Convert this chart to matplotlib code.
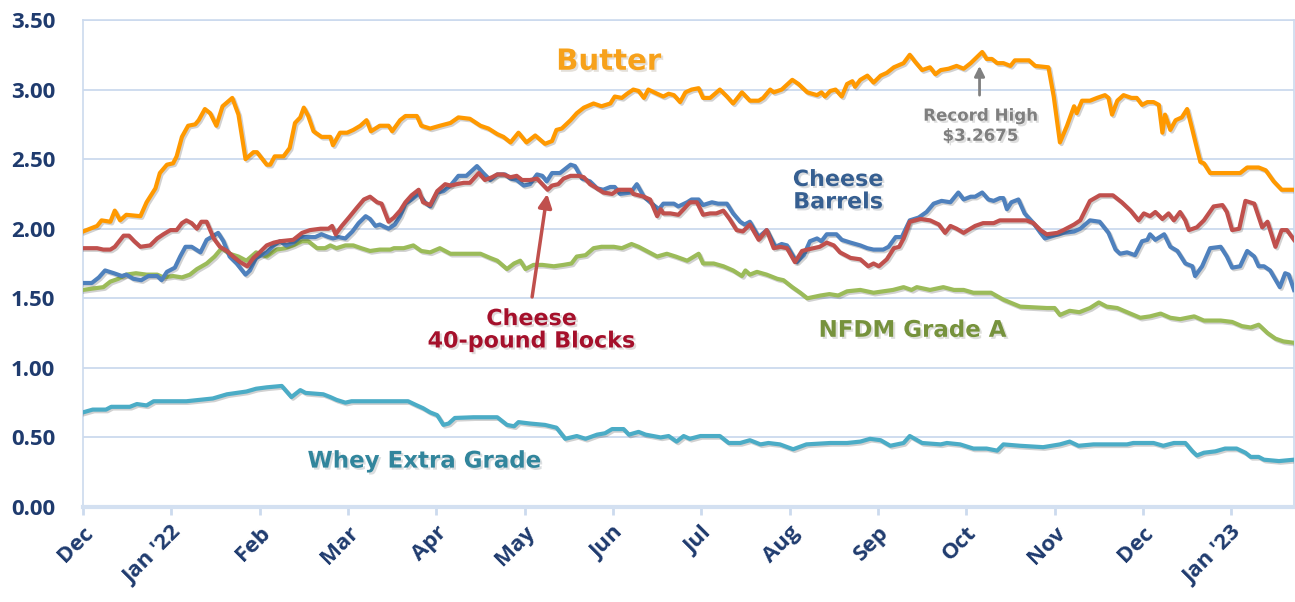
import matplotlib
matplotlib.use("Agg")
import matplotlib.pyplot as plt
import matplotlib.patheffects as pe

# eixo x em meses (0 = Dec 2021, 13 = Jan 2023)
month_labels = ["Dec", "Jan '22", "Feb", "Mar", "Apr", "May", "Jun", "Jul",
                "Aug", "Sep", "Oct", "Nov", "Dec", "Jan '23"]

butter_x = [0.00, 0.16, 0.21, 0.31, 0.36, 0.42, 0.49, 0.65, 0.72, 0.82, 0.87, 0.95, 1.02, 1.06,
            1.12, 1.19, 1.27, 1.31, 1.38, 1.44, 1.51, 1.58, 1.69, 1.76, 1.84, 1.93, 1.97, 2.08,
            2.12, 2.17, 2.27, 2.34, 2.40, 2.46, 2.50, 2.55, 2.61, 2.70, 2.80, 2.83, 2.91, 2.99,
            3.06, 3.14, 3.21, 3.26, 3.36, 3.46, 3.50, 3.59, 3.65, 3.78, 3.83, 3.93, 4.04, 4.16,
            4.25, 4.38, 4.50, 4.59, 4.69, 4.76, 4.84, 4.93, 5.02, 5.12, 5.23, 5.31, 5.36, 5.42,
            5.52, 5.59, 5.67, 5.78, 5.87, 5.97, 6.02, 6.10, 6.16, 6.23, 6.29, 6.35, 6.40, 6.50,
            6.57, 6.63, 6.69, 6.76, 6.82, 6.89, 6.97, 7.02, 7.10, 7.21, 7.29, 7.36, 7.46, 7.55,
            7.65, 7.70, 7.78, 7.82, 7.91, 8.03, 8.10, 8.20, 8.31, 8.36, 8.40, 8.46, 8.52, 8.59,
            8.65, 8.71, 8.74, 8.80, 8.88, 8.95, 9.03, 9.10, 9.18, 9.29, 9.36, 9.42, 9.50, 9.59,
            9.65, 9.71, 9.80, 9.89, 9.97, 10.05, 10.18, 10.23, 10.29, 10.35, 10.42, 10.50, 10.55,
            10.71, 10.78, 10.93, 10.99, 11.06, 11.14, 11.22, 11.25, 11.31, 11.40, 11.48, 11.57,
            11.61, 11.65, 11.71, 11.78, 11.87, 11.93, 11.99, 12.05, 12.12, 12.18, 12.22, 12.25,
            12.31, 12.37, 12.44, 12.50, 12.56, 12.61, 12.65, 12.69, 12.76, 13.10, 13.18, 13.31,
            13.39, 13.48, 13.57, 13.71]
butter_y = [1.98, 2.02, 2.06, 2.05, 2.13, 2.06, 2.10, 2.09, 2.19, 2.29, 2.40, 2.46, 2.47, 2.52,
            2.66, 2.74, 2.75, 2.78, 2.86, 2.83, 2.74, 2.88, 2.94, 2.82, 2.50, 2.55, 2.55, 2.46,
            2.46, 2.52, 2.52, 2.58, 2.76, 2.80, 2.87, 2.81, 2.70, 2.66, 2.66, 2.60, 2.69, 2.69,
            2.71, 2.74, 2.78, 2.70, 2.74, 2.74, 2.70, 2.78, 2.81, 2.81, 2.74, 2.72, 2.74, 2.76,
            2.80, 2.79, 2.74, 2.72, 2.68, 2.66, 2.62, 2.69, 2.62, 2.67, 2.61, 2.63, 2.71, 2.72,
            2.78, 2.83, 2.87, 2.90, 2.88, 2.90, 2.95, 2.94, 2.97, 3.00, 2.99, 2.94, 3.00, 2.97,
            2.95, 2.97, 2.96, 2.91, 2.98, 3.00, 3.01, 2.94, 2.94, 3.00, 2.95, 2.90, 2.98, 2.92,
            2.92, 2.94, 3.00, 2.98, 3.00, 3.07, 3.04, 2.98, 2.96, 2.98, 2.95, 2.99, 3.00, 2.95,
            3.04, 3.06, 3.02, 3.07, 3.10, 3.05, 3.10, 3.12, 3.16, 3.19, 3.25, 3.20, 3.14, 3.16,
            3.11, 3.14, 3.15, 3.17, 3.15, 3.19, 3.27, 3.22, 3.22, 3.19, 3.19, 3.17, 3.21,
            3.21, 3.17, 3.16, 2.95, 2.62, 2.74, 2.88, 2.83, 2.92, 2.92, 2.94, 2.96,
            2.94, 2.82, 2.92, 2.96, 2.94, 2.94, 2.89, 2.91, 2.91, 2.89, 2.69, 2.82,
            2.71, 2.78, 2.80, 2.86, 2.71, 2.58, 2.48, 2.47, 2.40, 2.40, 2.44, 2.44,
            2.42, 2.34, 2.28, 2.28]

blocks_x = [0.00, 0.16, 0.23, 0.31, 0.36, 0.46, 0.52, 0.58, 0.65, 0.76, 0.84, 0.91, 0.99, 1.06,
            1.12, 1.17, 1.23, 1.29, 1.34, 1.40, 1.48, 1.55, 1.63, 1.70, 1.78, 1.86, 1.93, 2.00,
            2.08, 2.16, 2.23, 2.38, 2.48, 2.57, 2.69, 2.78, 2.82, 2.86, 2.93, 3.01, 3.10, 3.18,
            3.25, 3.33, 3.38, 3.46, 3.52, 3.59, 3.65, 3.72, 3.80, 3.85, 3.93, 4.01, 4.10, 4.16,
            4.23, 4.31, 4.38, 4.48, 4.55, 4.63, 4.69, 4.76, 4.84, 4.91, 4.97, 5.06, 5.14, 5.20,
            5.26, 5.31, 5.38, 5.44, 5.52, 5.61, 5.67, 5.74, 5.82, 5.89, 5.99, 6.06, 6.20, 6.23,
            6.35, 6.42, 6.50, 6.54, 6.57, 6.65, 6.74, 6.80, 6.87, 6.95, 7.02, 7.10, 7.17, 7.25,
            7.32, 7.40, 7.47, 7.55, 7.65, 7.74, 7.82, 7.89, 7.97, 8.06, 8.14, 8.20, 8.27, 8.34,
            8.42, 8.50, 8.57, 8.69, 8.80, 8.89, 8.95, 9.01, 9.10, 9.18, 9.24, 9.29, 9.36, 9.48,
            9.59, 9.69, 9.76, 9.82, 9.89, 9.97, 10.02, 10.10, 10.19, 10.31, 10.38, 10.53, 10.68,
            10.76, 10.84, 10.91, 11.03, 11.10, 11.22, 11.29, 11.40, 11.51, 11.66, 11.76, 11.86,
            11.95, 12.01, 12.08, 12.14, 12.22, 12.29, 12.35, 12.42, 12.48, 12.52, 12.61, 12.69,
            12.80, 12.90, 12.95, 13.01, 13.09, 13.16, 13.26, 13.35, 13.41, 13.50, 13.57, 13.63,
            13.71]
blocks_y = [1.86, 1.86, 1.85, 1.85, 1.87, 1.95, 1.95, 1.91, 1.87, 1.88, 1.93, 1.96, 1.99, 1.99,
            2.04, 2.06, 2.04, 2.00, 2.05, 2.05, 1.93, 1.87, 1.84, 1.80, 1.76, 1.73, 1.79, 1.83,
            1.88, 1.90, 1.91, 1.92, 1.97, 1.99, 2.00, 2.00, 2.02, 1.96, 2.02, 2.08, 2.15, 2.21,
            2.23, 2.19, 2.18, 2.05, 2.08, 2.13, 2.19, 2.24, 2.28, 2.19, 2.17, 2.27, 2.32, 2.31,
            2.32, 2.33, 2.33, 2.40, 2.35, 2.37, 2.39, 2.39, 2.37, 2.38, 2.35, 2.35, 2.36, 2.32,
            2.28, 2.31, 2.32, 2.36, 2.38, 2.38, 2.37, 2.32, 2.29, 2.26, 2.25, 2.28, 2.28, 2.25,
            2.23, 2.21, 2.09, 2.14, 2.11, 2.11, 2.10, 2.14, 2.19, 2.19, 2.10, 2.11, 2.11, 2.13,
            2.07, 1.99, 1.98, 2.03, 1.92, 1.99, 1.86, 1.87, 1.86, 1.76, 1.84, 1.85, 1.86, 1.87,
            1.90, 1.88, 1.83, 1.79, 1.78, 1.73, 1.75, 1.73, 1.78, 1.86, 1.87, 1.93, 2.05, 2.07,
            2.06, 2.03, 1.97, 2.02, 2.00, 1.97, 1.99, 2.02, 2.04, 2.04, 2.06, 2.06, 2.06,
            2.04, 1.99, 1.96, 1.97, 1.99, 2.03, 2.06, 2.20, 2.24, 2.24, 2.19, 2.13,
            2.06, 2.11, 2.09, 2.12, 2.07, 2.11, 2.06, 2.12, 2.06, 1.99, 2.01, 2.06,
            2.16, 2.17, 2.12, 1.99, 2.00, 2.20, 2.18, 2.01, 2.05, 1.87, 1.99, 1.99,
            1.92]

barrels_x = [0.00, 0.10, 0.18, 0.25, 0.35, 0.44, 0.49, 0.57, 0.66, 0.74, 0.84, 0.89, 0.95, 1.04,
             1.10, 1.16, 1.23, 1.33, 1.40, 1.48, 1.53, 1.59, 1.66, 1.74, 1.84, 1.89, 1.96, 2.08,
             2.16, 2.23, 2.30, 2.38, 2.46, 2.53, 2.63, 2.70, 2.78, 2.83, 2.89, 2.97, 3.05, 3.12,
             3.20, 3.25, 3.31, 3.36, 3.46, 3.53, 3.59, 3.65, 3.72, 3.80, 3.87, 3.93, 4.01, 4.08,
             4.16, 4.25, 4.34, 4.46, 4.53, 4.61, 4.69, 4.78, 4.84, 4.91, 4.99, 5.06, 5.14, 5.20,
             5.25, 5.31, 5.40, 5.52, 5.57, 5.65, 5.74, 5.82, 5.89, 5.97, 6.02, 6.08, 6.20, 6.27,
             6.35, 6.44, 6.52, 6.57, 6.69, 6.74, 6.84, 6.89, 6.97, 7.02, 7.12, 7.19, 7.29, 7.36,
             7.44, 7.49, 7.55, 7.65, 7.74, 7.84, 7.91, 7.97, 8.08, 8.16, 8.23, 8.31, 8.36, 8.42,
             8.53, 8.59, 8.69, 8.80, 8.88, 8.95, 9.06, 9.12, 9.20, 9.27, 9.36, 9.46, 9.55, 9.63,
             9.72, 9.82, 9.91, 9.97, 10.05, 10.10, 10.18, 10.25, 10.31, 10.38, 10.42, 10.46,
             10.51, 10.59, 10.66, 10.76, 10.84, 10.89, 10.99, 11.10, 11.22, 11.29, 11.40, 11.51,
             11.61, 11.69, 11.74, 11.82, 11.91, 11.99, 12.05, 12.08, 12.14, 12.24, 12.31, 12.39,
             12.48, 12.56, 12.59, 12.67, 12.76, 12.88, 12.95, 13.01, 13.10, 13.18, 13.26, 13.31,
             13.37, 13.44, 13.55, 13.61, 13.65, 13.71]
barrels_y = [1.61, 1.61, 1.65, 1.70, 1.68, 1.66, 1.67, 1.64, 1.63, 1.66, 1.66, 1.63, 1.69, 1.72,
             1.80, 1.87, 1.87, 1.83, 1.92, 1.95, 1.97, 1.91, 1.80, 1.75, 1.67, 1.70, 1.79, 1.83,
             1.88, 1.91, 1.88, 1.90, 1.94, 1.94, 1.94, 1.96, 1.94, 1.93, 1.94, 1.93, 1.98, 2.04,
             2.09, 2.07, 2.02, 2.03, 2.00, 2.03, 2.09, 2.18, 2.21, 2.25, 2.19, 2.16, 2.26, 2.27,
             2.31, 2.38, 2.38, 2.45, 2.40, 2.35, 2.39, 2.39, 2.36, 2.35, 2.31, 2.32, 2.39, 2.38,
             2.34, 2.40, 2.40, 2.46, 2.45, 2.36, 2.34, 2.29, 2.28, 2.30, 2.30, 2.25, 2.26, 2.32,
             2.23, 2.18, 2.14, 2.18, 2.18, 2.16, 2.19, 2.21, 2.21, 2.17, 2.19, 2.18, 2.18, 2.11,
             2.05, 2.03, 2.05, 1.94, 1.99, 1.87, 1.89, 1.88, 1.76, 1.81, 1.91, 1.93, 1.91, 1.96,
             1.96, 1.92, 1.90, 1.88, 1.86, 1.85, 1.85, 1.87, 1.94, 1.94, 2.06, 2.08, 2.12, 2.18,
             2.20, 2.19, 2.26, 2.21, 2.23, 2.23, 2.26, 2.21, 2.20, 2.22, 2.22, 2.14,
             2.19, 2.21, 2.11, 2.04, 1.97, 1.93, 1.95, 1.97, 1.98, 2.00, 2.06, 2.05,
             1.97, 1.85, 1.82, 1.83, 1.81, 1.91, 1.92, 1.96, 1.92, 1.96, 1.87, 1.84,
             1.75, 1.73, 1.66, 1.73, 1.86, 1.87, 1.80, 1.72, 1.73, 1.84, 1.80, 1.73,
             1.73, 1.70, 1.58, 1.68, 1.67, 1.56]

nfdm_x = [0.00, 0.11, 0.23, 0.31, 0.40, 0.49, 0.60, 0.72, 0.84, 0.91, 1.02, 1.12, 1.21, 1.29,
          1.40, 1.49, 1.57, 1.66, 1.76, 1.85, 1.96, 2.08, 2.19, 2.29, 2.38, 2.48, 2.55, 2.65,
          2.74, 2.80, 2.87, 2.97, 3.06, 3.15, 3.25, 3.36, 3.48, 3.52, 3.63, 3.74, 3.83, 3.93,
          4.04, 4.16, 4.31, 4.50, 4.61, 4.69, 4.80, 4.88, 4.95, 5.01, 5.10, 5.20, 5.33, 5.44,
          5.53, 5.59, 5.69, 5.78, 5.87, 6.01, 6.10, 6.21, 6.29, 6.38, 6.50, 6.61, 6.71, 6.84,
          6.97, 7.02, 7.14, 7.25, 7.36, 7.46, 7.50, 7.55, 7.63, 7.74, 7.86, 7.93, 8.03, 8.12,
          8.20, 8.35, 8.45, 8.55, 8.65, 8.80, 8.95, 9.06, 9.17, 9.29, 9.38, 9.44, 9.59, 9.74,
          9.86, 9.97, 10.08, 10.28, 10.42, 10.61, 10.91, 11.00, 11.06, 11.17, 11.28, 11.40,
          11.50, 11.59, 11.71, 11.82, 11.97, 12.08, 12.20, 12.31, 12.42, 12.58, 12.69, 12.88,
          13.01, 13.12, 13.22, 13.31, 13.41, 13.50, 13.59, 13.71]
nfdm_y = [1.56, 1.57, 1.58, 1.62, 1.64, 1.67, 1.68, 1.67, 1.67, 1.65, 1.66, 1.65, 1.67, 1.71,
          1.75, 1.80, 1.86, 1.82, 1.80, 1.77, 1.83, 1.80, 1.85, 1.86, 1.88, 1.91, 1.91, 1.86,
          1.86, 1.88, 1.86, 1.88, 1.88, 1.86, 1.84, 1.85, 1.85, 1.86, 1.86, 1.88, 1.84, 1.83,
          1.86, 1.82, 1.82, 1.82, 1.79, 1.77, 1.71, 1.75, 1.77, 1.71, 1.74, 1.74, 1.73, 1.74,
          1.75, 1.80, 1.81, 1.86, 1.87, 1.87, 1.86, 1.89, 1.87, 1.84, 1.80, 1.82, 1.80, 1.77,
          1.82, 1.75, 1.75, 1.73, 1.70, 1.66, 1.70, 1.67, 1.69, 1.67, 1.64, 1.63, 1.58, 1.54,
          1.50, 1.52, 1.53, 1.52, 1.55, 1.56, 1.54, 1.55, 1.56, 1.58, 1.56, 1.58, 1.56, 1.58,
          1.56, 1.56, 1.54, 1.54, 1.49, 1.44, 1.43, 1.43, 1.38, 1.41, 1.40, 1.43,
          1.47, 1.44, 1.43, 1.40, 1.36, 1.37, 1.39, 1.36, 1.35, 1.37, 1.34, 1.34,
          1.33, 1.30, 1.29, 1.31, 1.25, 1.21, 1.19, 1.18]

whey_x = [0.00, 0.11, 0.26, 0.32, 0.53, 0.61, 0.72, 0.80, 0.95, 1.17, 1.32, 1.47, 1.63, 1.74,
          1.85, 1.96, 2.08, 2.25, 2.36, 2.46, 2.52, 2.72, 2.80, 2.87, 2.97, 3.04, 3.21, 3.51,
          3.68, 3.78, 3.85, 3.93, 4.01, 4.08, 4.14, 4.21, 4.42, 4.69, 4.80, 4.88, 4.93, 5.06,
          5.23, 5.36, 5.46, 5.59, 5.69, 5.82, 5.91, 5.99, 6.12, 6.18, 6.29, 6.37, 6.54, 6.63,
          6.72, 6.80, 6.87, 6.99, 7.10, 7.21, 7.31, 7.44, 7.55, 7.67, 7.76, 7.89, 8.04, 8.19,
          8.46, 8.65, 8.80, 8.91, 9.03, 9.14, 9.29, 9.36, 9.50, 9.71, 9.78, 9.93, 10.08, 10.23,
          10.35, 10.42, 10.61, 10.87, 11.06, 11.17, 11.27, 11.44, 11.82, 11.89, 12.12, 12.23,
          12.35, 12.48, 12.56, 12.61, 12.69, 12.82, 12.93, 13.06, 13.16, 13.22, 13.31, 13.37,
          13.54, 13.71]
whey_y = [0.68, 0.70, 0.70, 0.72, 0.72, 0.74, 0.73, 0.76, 0.76, 0.76, 0.77, 0.78, 0.81, 0.82,
          0.83, 0.85, 0.86, 0.87, 0.79, 0.84, 0.82, 0.81, 0.79, 0.77, 0.75, 0.76, 0.76, 0.76,
          0.76, 0.73, 0.71, 0.68, 0.66, 0.59, 0.60, 0.64, 0.645, 0.645, 0.59, 0.58, 0.61, 0.60,
          0.59, 0.57, 0.49, 0.51, 0.49, 0.52, 0.53, 0.56, 0.56, 0.52, 0.54, 0.52, 0.50, 0.51,
          0.47, 0.51, 0.49, 0.51, 0.51, 0.51, 0.46, 0.46, 0.48, 0.45, 0.46, 0.45, 0.415, 0.45,
          0.46, 0.46, 0.47, 0.49, 0.48, 0.44, 0.46, 0.51, 0.46, 0.45, 0.46, 0.45, 0.42, 0.42,
          0.405, 0.45, 0.44, 0.43, 0.45, 0.47, 0.44, 0.45, 0.45, 0.46, 0.46, 0.44,
          0.46, 0.46, 0.40, 0.37, 0.39, 0.40, 0.42, 0.42, 0.39, 0.36, 0.36, 0.34,
          0.33, 0.34]

# cores no estilo Excel
c_butter = "#FF9900"
c_blocks = "#C0504D"
c_barrels = "#4F81BD"
c_nfdm = "#9BBB59"
c_whey = "#4BACC6"
navy = "#1F3B6E"
grid_c = "#CCDAEE"

fig = plt.figure(figsize=(12.95, 6.02), dpi=100)
ax = fig.add_axes([83 / 1295, 95 / 602, 1211 / 1295, 487 / 602])

shadow = [pe.SimpleLineShadow(offset=(1.2, -1.2), alpha=0.18), pe.Normal()]
for xs, ys, c in [(whey_x, whey_y, c_whey), (nfdm_x, nfdm_y, c_nfdm),
                  (barrels_x, barrels_y, c_barrels), (blocks_x, blocks_y, c_blocks),
                  (butter_x, butter_y, c_butter)]:
    ax.plot(xs, ys, color=c, lw=3.0, solid_joinstyle="round", path_effects=shadow, zorder=3)

ax.set_xlim(0, 13.71)
ax.set_ylim(0, 3.5)
ax.set_yticks([i * 0.5 for i in range(8)])
ax.set_yticklabels([f"{i * 0.5:.2f}" for i in range(8)])
ax.set_xticks(range(len(month_labels)))
ax.set_xticklabels(month_labels, rotation=45, ha="right", rotation_mode="anchor")

for lab in ax.get_xticklabels() + ax.get_yticklabels():
    lab.set_fontfamily("Open Sans")
    lab.set_fontweight("bold")
    lab.set_fontsize(16)
    lab.set_color(navy)

ax.tick_params(axis="y", length=0, pad=20)
ax.tick_params(axis="x", length=6, width=2, color=grid_c, pad=5)
ax.grid(axis="y", color=grid_c, lw=1.3, zorder=0)
ax.set_axisbelow(True)
for s in ["left", "right", "top"]:
    ax.spines[s].set_color(grid_c)
    ax.spines[s].set_linewidth(1.2)
ax.spines["bottom"].set_color("#D3E0F1")
ax.spines["bottom"].set_linewidth(3)

txt_shadow = [pe.withSimplePatchShadow(offset=(1.5, -1.5), alpha=0.15)]

def label(x, y, s, color, size):
    ax.text(x, y, s, color=color, fontsize=size, fontweight="bold", family="DejaVu Sans",
            ha="center", va="center", linespacing=1.15, path_effects=txt_shadow, zorder=5)

label(5.95, 3.20, "Butter", "#F7A11A", 21)
label(8.55, 2.27, "Cheese\nBarrels", "#365F91", 16)
label(10.16, 2.74, "Record High\n$3.2675", "#7F7F7F", 12)
label(5.08, 1.27, "Cheese\n40-pound Blocks", "#A5102B", 16)
label(9.39, 1.27, "NFDM Grade A", "#76923C", 16.5)
label(3.86, 0.33, "Whey Extra Grade", "#31859C", 16.5)

ax.annotate("", xy=(5.26, 2.27), xytext=(5.08, 1.49),
            arrowprops=dict(arrowstyle="-|>,head_length=0.8,head_width=0.4", color=c_blocks, lw=2.5),
            zorder=6)
ax.annotate("", xy=(10.15, 3.19), xytext=(10.15, 2.94),
            arrowprops=dict(arrowstyle="-|>,head_length=0.6,head_width=0.3", color="#808080", lw=2),
            zorder=6)

fig.savefig("out.png", dpi=100)
